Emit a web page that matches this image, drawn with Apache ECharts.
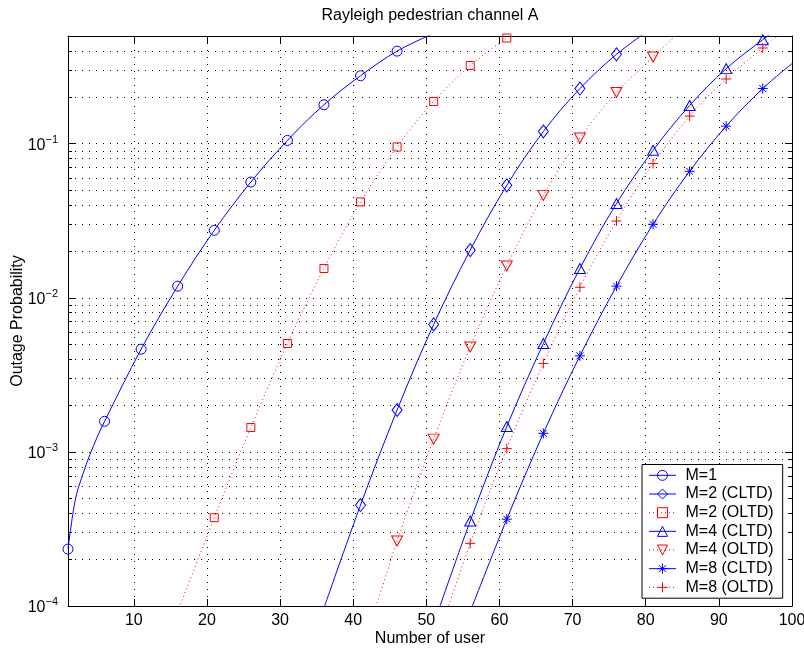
<!DOCTYPE html>
<html><head><meta charset="utf-8">
<script src="https://cdn.jsdelivr.net/npm/echarts@6/dist/echarts.min.js"></script>
<style>html,body{margin:0;padding:0;background:#fff}#c{width:804px;height:649px}</style>
</head><body><div id="c"></div>
<script>
const FONT = "'Liberation Sans', Arial, Helvetica, sans-serif";

// axis ticks
const xTicks = [10, 20, 30, 40, 50, 60, 70, 80, 90, 100];
const yMajorTicks = [1e-4, 1e-3, 1e-2, 1e-1];
const yMinorMantissas = [2, 3, 4, 5, 6, 7, 8, 9];
const yDecadeExps = [-4, -3, -2, -1];

// series values
const m1X = [1, 2, 3, 4, 5, 6, 11, 16, 21, 26, 31, 36, 41, 46, 51];
const m1Y = [2.34e-4, 4.9e-4, 7.1e-4, 9.6e-4, 1.25e-3, 1.58e-3, 4.64e-3, 1.19e-2, 2.74e-2, 5.64e-2, 0.105, 0.179, 0.276, 0.399, 0.52];

const m2cX = [36, 41, 46, 51, 56, 61, 66, 71, 76, 81];
const m2cY = [9.7e-5, 4.52e-4, 1.87e-3, 6.72e-3, 2.04e-2, 5.37e-2, 0.120, 0.228, 0.380, 0.57];

const m2oX = [16, 21, 26, 31, 36, 41, 46, 51, 56, 61];
const m2oY = [9.2e-5, 3.74e-4, 1.44e-3, 5.05e-3, 1.55e-2, 4.19e-2, 9.53e-2, 0.188, 0.322, 0.485];

const m4cX = [51, 56, 61, 66, 71, 76, 81, 86, 91, 96, 100];
const m4cY = [7.6e-5, 3.56e-4, 1.46e-3, 5.05e-3, 1.55e-2, 4.09e-2, 9.06e-2, 0.177, 0.307, 0.473, 0.65];

const m4oX = [41, 46, 51, 56, 61, 66, 71, 76, 81, 86];
const m4oY = [4.7e-5, 2.64e-4, 1.21e-3, 4.80e-3, 1.61e-2, 4.62e-2, 0.109, 0.215, 0.365, 0.615];

const m8cX = [56, 61, 66, 71, 76, 81, 86, 91, 96, 100];
const m8cY = [9.2e-5, 3.66e-4, 1.32e-3, 4.20e-3, 1.19e-2, 3.00e-2, 6.62e-2, 0.130, 0.228, 0.331];

const m8oX = [51, 56, 61, 66, 71, 76, 81, 86, 91, 96, 100];
const m8oY = [5.1e-5, 2.55e-4, 1.05e-3, 3.75e-3, 1.17e-2, 3.15e-2, 7.43e-2, 0.151, 0.263, 0.418, 0.60];

const seriesNames = ['M=1', 'M=2 (CLTD)', 'M=2 (OLTD)', 'M=4 (CLTD)', 'M=4 (OLTD)', 'M=8 (CLTD)', 'M=8 (OLTD)'];

const yMinorTicks = [];
yDecadeExps.forEach(e => yMinorMantissas.forEach(m => {
  const v = m * Math.pow(10, e);
  if (v < 0.5) yMinorTicks.push(+v.toPrecision(3));
}));

const BLUE = '#0000ff', RED = '#ff0000';
const SYM = {
  circle: 'circle',
  diamond: 'diamond',
  square: 'rect',
  triUp: 'path://M5,0L10,8.66L0,8.66Z',
  triDown: 'path://M0,0L10,0L5,8.66Z',
  star: 'path://M5,0L5,10M0,5L10,5M1.5,1.5L8.5,8.5M1.5,8.5L8.5,1.5',
  plus: 'path://M5,0L5,10M0,5L10,5'
};

function buildData(xs, ys) {
  return xs.map((x, i) => ((x - 1) % 5 === 0) ? [x, ys[i]] : { value: [x, ys[i]], symbol: 'none' });
}

function mkSeries(name, xs, ys, color, symbol, size, dotted) {
  return {
    name, type: 'line', xAxisIndex: 0, yAxisIndex: 0,
    data: buildData(xs, ys),
    smooth: 0.35,
    clip: true,
    showSymbol: true,
    symbol, symbolSize: size,
    itemStyle: { color: 'rgba(0,0,0,0)', borderColor: color, borderWidth: 1 },
    lineStyle: { color, width: 1, type: dotted ? [1, 3] : 'solid' },
    emphasis: { disabled: true },
    animation: false
  };
}

const gridDots = { color: '#000', width: 1, type: [1, 6] };

function yAxisDef(pos, ticks, len, withLabels, withSplit, withLine) {
  return {
    type: 'log', position: pos, min: 1e-4, max: 0.5, logBase: 10,
    axisLine: { show: withLine, lineStyle: { color: '#000', width: 1 } },
    axisTick: { show: true, inside: true, length: len, customValues: ticks, lineStyle: { color: '#000', width: 1 } },
    axisLabel: {
      show: withLabels, customValues: ticks, margin: 10,
      formatter: v => '{b|10}{s|\u2212' + (-Math.round(Math.log10(v))) + '}',
      rich: {
        b: { fontSize: 16, fontFamily: FONT, color: '#000', lineHeight: 19, verticalAlign: 'bottom' },
        s: { fontSize: 11, fontFamily: FONT, color: '#000', lineHeight: 12, verticalAlign: 'top' }
      }
    },
    splitLine: { show: withSplit, lineStyle: gridDots },
    minorTick: { show: false }, minorSplitLine: { show: false }
  };
}

const option = {
  backgroundColor: '#fff',
  animation: false,
  title: {
    text: 'Rayleigh pedestrian channel A',
    left: 430, top: 8, textAlign: 'center', padding: 0,
    textStyle: { fontSize: 16, fontWeight: 'normal', fontFamily: FONT, color: '#000' }
  },
  grid: { left: 68, right: 12, top: 36, bottom: 43, containLabel: false, outerBoundsMode: 'none' },
  legend: {
    orient: 'vertical', left: 642, top: 464.5,
    padding: [1.5, 9, 1.5, 6.5],
    itemWidth: 27, itemHeight: 12.5, itemGap: 0,
    backgroundColor: '#fff', borderColor: '#000', borderWidth: 1, borderRadius: 0,
    itemStyle: { borderWidth: 1 },
    lineStyle: { width: 1 },
    textStyle: { fontSize: 16, fontFamily: FONT, color: '#000', lineHeight: 18.67, padding: [0, 0, 0, 4.5] },
    data: seriesNames
  },
  xAxis: [
    {
      type: 'value', position: 'bottom', min: 1, max: 100,
      name: 'Number of user', nameLocation: 'middle', nameGap: 25, nameMoveOverlap: false,
      nameTextStyle: { fontSize: 16, fontFamily: FONT, color: '#000' },
      axisLine: { show: true, onZero: false, lineStyle: { color: '#000', width: 1 } },
      axisTick: { show: true, inside: true, length: 7, customValues: xTicks, lineStyle: { color: '#000' } },
      axisLabel: { show: true, customValues: xTicks, margin: 7, fontSize: 16, fontFamily: FONT, color: '#000' },
      splitLine: { show: true, lineStyle: gridDots }
    },
    {
      type: 'value', position: 'top', min: 1, max: 100,
      axisLine: { show: true, onZero: false, lineStyle: { color: '#000', width: 1 } },
      axisTick: { show: true, inside: true, length: 7, customValues: xTicks, lineStyle: { color: '#000' } },
      axisLabel: { show: false },
      splitLine: { show: false }
    }
  ],
  yAxis: [
    Object.assign(yAxisDef('left', yMajorTicks, 7, true, true, true), {
      name: 'Outage Probability', nameLocation: 'middle', nameGap: 42, nameMoveOverlap: false,
      nameTextStyle: { fontSize: 16, fontFamily: FONT, color: '#000' }
    }),
    yAxisDef('left', yMinorTicks, 4, false, true, false),
    yAxisDef('right', yMajorTicks, 7, false, false, true),
    yAxisDef('right', yMinorTicks, 4, false, false, false)
  ],
  series: [
    mkSeries(seriesNames[0], m1X, m1Y, BLUE, SYM.circle, 10, false),
    mkSeries(seriesNames[1], m2cX, m2cY, BLUE, SYM.diamond, [10, 13], false),
    mkSeries(seriesNames[2], m2oX, m2oY, RED, SYM.square, 8, true),
    mkSeries(seriesNames[3], m4cX, m4cY, BLUE, SYM.triUp, [11, 10], false),
    mkSeries(seriesNames[4], m4oX, m4oY, RED, SYM.triDown, [11, 10], true),
    mkSeries(seriesNames[5], m8cX, m8cY, BLUE, SYM.star, 10, false),
    mkSeries(seriesNames[6], m8oX, m8oY, RED, SYM.plus, 10, true)
  ]
};

const chart = echarts.init(document.getElementById('c'), null, { renderer: 'canvas' });
chart.setOption(option);
</script>
</body></html>
